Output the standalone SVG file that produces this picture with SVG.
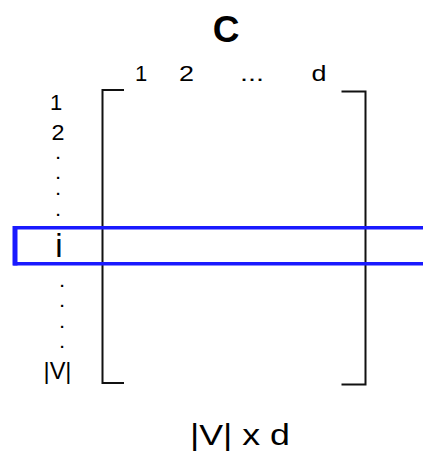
<svg xmlns="http://www.w3.org/2000/svg" width="423" height="455" viewBox="0 0 423 455">
<style>
text{font-family:"Liberation Sans",Arial,sans-serif;fill:#000}
.lbl{font-size:22px}
.dot{font-size:15px;font-weight:bold}
.br{fill:none;stroke:#111;stroke-width:2}
.hl{fill:none;stroke:#1a1aff;stroke-width:3.5}
</style>
<rect width="423" height="455" fill="#fff"/>
<text x="226" y="42" font-size="37" font-weight="bold" text-anchor="middle">C</text>
<g id="matrix">
<path class="br" d="M124,90 H102.5 V383 H124"/>
<path class="br" d="M341.5,91.5 H365.5 V384.5 H341.5"/>
</g>
<g id="col-labels" class="lbl" text-anchor="middle">
<text x="141" y="81">1</text>
<text x="186.5" y="81" textLength="15" lengthAdjust="spacingAndGlyphs">2</text>
<text x="252" y="81" textLength="24" lengthAdjust="spacingAndGlyphs">...</text>
<text x="319" y="81" textLength="15" lengthAdjust="spacingAndGlyphs">d</text>
</g>
<g id="row-labels" class="lbl" text-anchor="middle">
<text x="56" y="110">1</text>
<text x="58" y="140" textLength="13" lengthAdjust="spacingAndGlyphs">2</text>
<text class="dot" x="58" y="158.5">.</text>
<text class="dot" x="58" y="179">.</text>
<text class="dot" x="58" y="195">.</text>
<text class="dot" x="58" y="216">.</text>
<text x="59" y="257" font-size="33">i</text>
<text class="dot" x="62" y="286.5">.</text>
<text class="dot" x="62" y="307">.</text>
<text class="dot" x="62" y="327.5">.</text>
<text class="dot" x="62" y="348">.</text>
<text x="57.5" y="379" font-size="24" textLength="28" lengthAdjust="spacingAndGlyphs">|V|</text>
</g>
<g id="highlight">
<path class="hl" d="M430,227.8 H15 V263.8 H430"/>
<line x1="15" y1="226" x2="15" y2="265.5" stroke="#1a1aff" stroke-width="5"/>
</g>
<text x="240" y="445" font-size="30" text-anchor="middle" textLength="100" lengthAdjust="spacingAndGlyphs">|V| x d</text>
</svg>
